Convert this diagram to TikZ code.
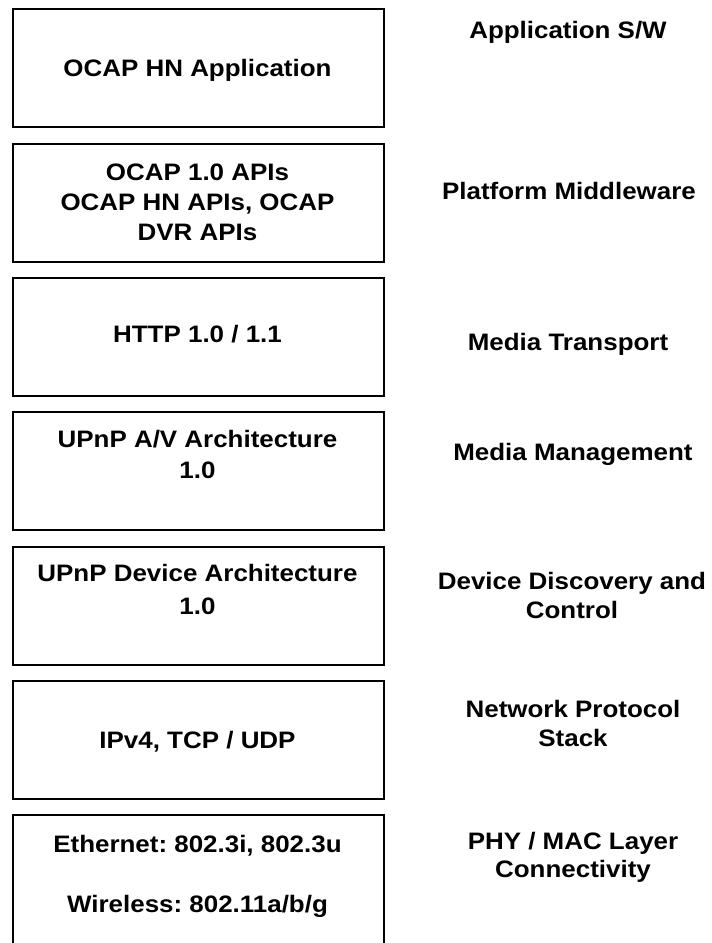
\documentclass[tikz,border=0pt]{standalone}
\usepackage{fontspec}
\setmainfont[FakeStretch=1.09]{Liberation Sans}
\frenchspacing
\begin{document}
\begin{tikzpicture}[x=1pt,y=-1pt,
  box/.style={draw=black, line width=1.5pt, minimum width=371pt, minimum height=118pt, inner sep=0pt, anchor=north west},
  txt/.style={anchor=base, inner sep=0pt, font=\fontsize{23.8}{29}\selectfont\bfseries}]
\useasboundingbox (0,0) rectangle (712,943);
\clip (0,0) rectangle (712,943);
% left stack boxes
\node[box] (b1) at (12,8) {};
\node[box] (b2) at (12,143) {};
\node[box] (b3) at (12,277) {};
\node[box] (b4) at (12,411) {};
\node[box] (b5) at (12,546) {};
\node[box] (b6) at (12,680) {};
\node[box, minimum height=160pt] (b7) at (12,814) {};
% box texts
\node[txt] (t1) at (197.5,76) {OCAP HN Application};
\node[txt] (t2a) at (197.5,180) {OCAP 1.0 APIs};
\node[txt] (t2b) at (197.5,210) {OCAP HN APIs, OCAP};
\node[txt] (t2c) at (197.5,240) {DVR APIs};
\node[txt] (t3) at (197.5,342) {HTTP 1.0 / 1.1};
\node[txt] (t4a) at (197.5,447) {UPnP A/V Architecture};
\node[txt] (t4b) at (197.5,478) {1.0};
\node[txt] (t5a) at (197.5,581) {UPnP Device Architecture};
\node[txt] (t5b) at (197.5,614) {1.0};
\node[txt] (t6) at (197.5,748) {IPv4, TCP / UDP};
\node[txt] (t7a) at (197.5,852) {Ethernet: 802.3i, 802.3u};
\node[txt] (t7b) at (197.5,912) {Wireless: 802.11a/b/g};
% right labels
\node[txt] (r1) at (568,38) {Application S/W};
\node[txt] (r2) at (569,199) {Platform Middleware};
\node[txt] (r3) at (568,350) {Media Transport};
\node[txt] (r4) at (573,460) {Media Management};
\node[txt] (r5a) at (572,589) {Device Discovery and};
\node[txt] (r5b) at (572,618) {Control};
\node[txt] (r6a) at (573,717) {Network Protocol};
\node[txt] (r6b) at (573,746) {Stack};
\node[txt] (r7a) at (573,849) {PHY / MAC Layer};
\node[txt] (r7b) at (573,877) {Connectivity};
\end{tikzpicture}
\end{document}
